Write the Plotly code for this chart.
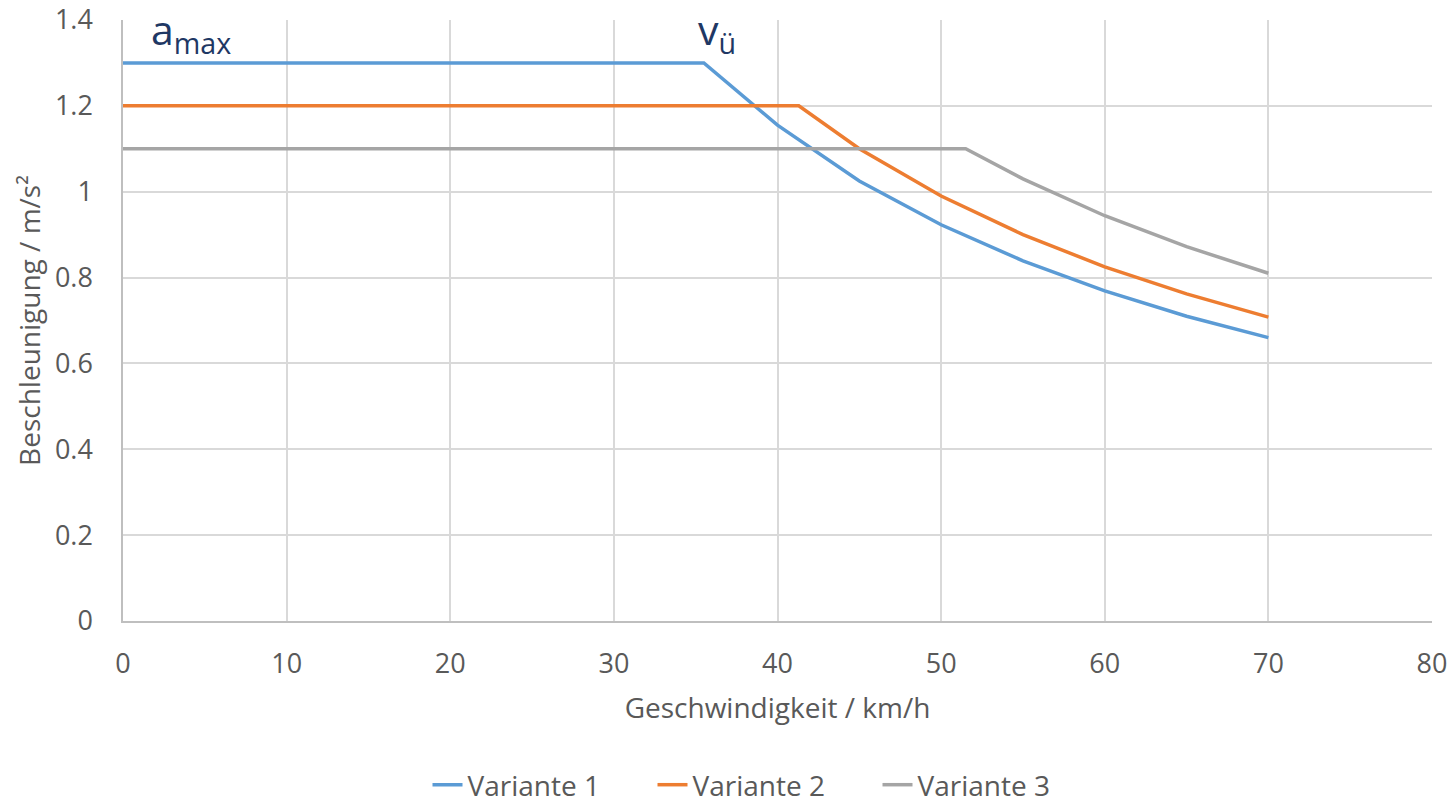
import plotly.graph_objects as go

# Data
v1_x = [0, 35.5, 40, 45, 50, 55, 60, 65, 70]
v1_y = [1.3, 1.3, 1.155, 1.025, 0.923, 0.839, 0.769, 0.71, 0.66]
v2_x = [0, 41.3, 45, 50, 55, 60, 65, 70]
v2_y = [1.2, 1.2, 1.10, 0.99, 0.90, 0.825, 0.762, 0.708]
v3_x = [0, 51.5, 55, 60, 65, 70]
v3_y = [1.1, 1.1, 1.03, 0.944, 0.872, 0.81]
names = ["Variante 1", "Variante 2", "Variante 3"]
colors = ["#5b9bd5", "#ed7d31", "#a5a5a5"]

FONT = "Open Sans"
TXT = "#595959"

fig = go.Figure()
for xs, ys, n, c in zip([v1_x, v2_x, v3_x], [v1_y, v2_y, v3_y], names, colors):
    fig.add_trace(go.Scatter(x=xs, y=ys, mode="lines", name=n,
                             line=dict(color=c, width=3.5)))

fig.add_annotation(x=1.6, y=1.4, xref="x", yref="y", text="a<sub>max</sub>",
                   showarrow=False, xanchor="left", yanchor="top", yshift=21,
                   font=dict(family=FONT, size=41, color="#1f3864"))
fig.add_annotation(x=35, y=1.4, xref="x", yref="y", text="v<sub>ü</sub>",
                   showarrow=False, xanchor="left", yanchor="top", yshift=21,
                   font=dict(family=FONT, size=41, color="#1f3864"))

fig.update_layout(
    width=1450, height=797,
    margin=dict(l=123, r=18, t=20, b=176, autoexpand=False),
    paper_bgcolor="white", plot_bgcolor="white",
    font=dict(family=FONT, size=27, color=TXT),
    showlegend=True,
    legend=dict(orientation="h", x=0.5 + 40 / 1450, xanchor="center", xref="container",
                y=1 - 785 / 797, yanchor="middle", yref="container",
                font=dict(size=28, color=TXT), entrywidth=180, entrywidthmode="pixels",
                tracegroupgap=0),
)
fig.update_xaxes(range=[0, 80], dtick=10, showgrid=True, gridcolor="#d9d9d9", gridwidth=1.5,
                 zeroline=False, showline=True, linecolor="#bfbfbf", linewidth=1.5,
                 ticks="", ticklabelstandoff=18, automargin=False,
                 title=dict(text="Geschwindigkeit / km/h", standoff=18, font=dict(size=28, color=TXT)),
                 tickfont=dict(size=27, color=TXT))
fig.update_yaxes(range=[0, 1.4], dtick=0.2, showgrid=True, gridcolor="#d9d9d9", gridwidth=1.5,
                 zeroline=False, showline=True, linecolor="#bfbfbf", linewidth=1.5,
                 ticks="", ticklabelstandoff=23, automargin=False,
                 title=dict(text="Beschleunigung / m/s²", standoff=6, font=dict(size=28, color=TXT)),
                 tickfont=dict(size=27, color=TXT))

fig.write_html("out.html", config={"displayModeBar": False},
               post_script="document.body.style.margin='0';document.body.style.overflow='hidden';")
